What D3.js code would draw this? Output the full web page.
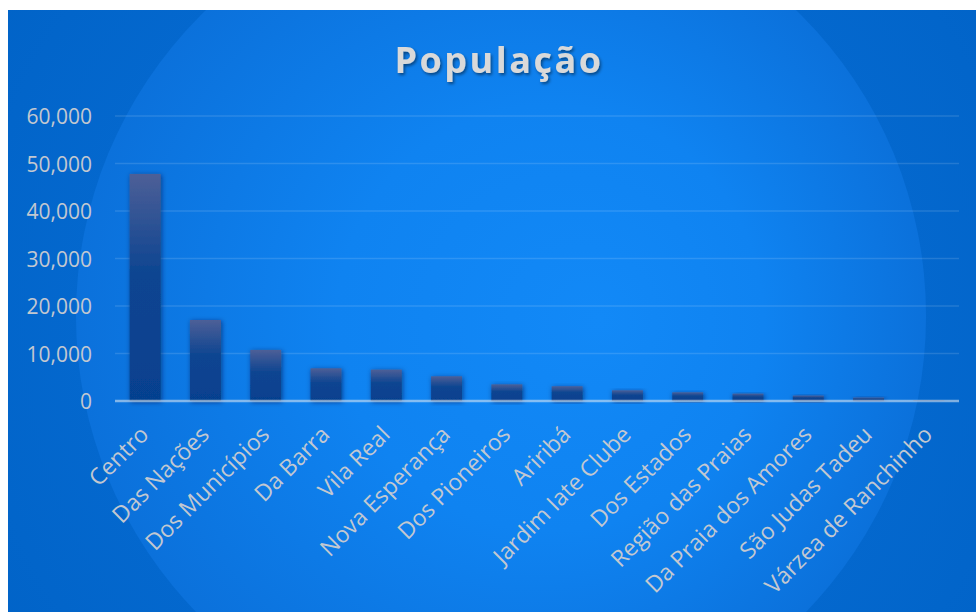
<!DOCTYPE html>
<html>
<head>
<meta charset="utf-8">
<script src="https://cdn.jsdelivr.net/npm/d3@7"></script>
<style>
  html, body { margin: 0; padding: 0; background: #ffffff; }
  svg { display: block; }
</style>
</head>
<body>
<svg id="chart" width="976" height="612"></svg>
<script>
// Population by neighbourhood
const categories = [
  "Centro", "Das Nações", "Dos Municípios", "Da Barra", "Vila Real",
  "Nova Esperança", "Dos Pioneiros", "Ariribá", "Jardim Iate Clube",
  "Dos Estados", "Região das Praias", "Da Praia dos Amores",
  "São Judas Tadeu", "Várzea de Ranchinho"
];
const population = [47800, 17050, 10750, 6880, 6600, 5200, 3500, 3100, 2250, 1830, 1550, 1140, 720, 150];
const yTicks = [0, 10000, 20000, 30000, 40000, 50000, 60000];
const titleText = "População";

const W = 976, H = 612;
const frame = { x: 8, y: 10, w: W - 8, h: H - 10 };
const plot = { left: 115, right: 959, top: 116, bottom: 401 };

const svg = d3.select("#chart");
const defs = svg.append("defs");

// background fills
const outer = defs.append("radialGradient")
  .attr("id", "bgOuter").attr("gradientUnits", "userSpaceOnUse")
  .attr("cx", 501).attr("cy", 316).attr("r", 640);
outer.append("stop").attr("offset", 0).attr("stop-color", "#0b73dd");
outer.append("stop").attr("offset", 1).attr("stop-color", "#0062c6");

const inner = defs.append("radialGradient")
  .attr("id", "bgInner").attr("gradientUnits", "userSpaceOnUse")
  .attr("cx", 501).attr("cy", 316).attr("r", 425)
  .attr("fx", 600).attr("fy", 320);
inner.append("stop").attr("offset", 0).attr("stop-color", "#1289f7");
inner.append("stop").attr("offset", 0.5).attr("stop-color", "#0f83f1");
inner.append("stop").attr("offset", 1).attr("stop-color", "#0b71db");

defs.append("clipPath").attr("id", "frameClip")
  .append("rect").attr("x", frame.x).attr("y", frame.y).attr("width", frame.w).attr("height", frame.h);

// bar fill
const barGrad = defs.append("linearGradient")
  .attr("id", "barGrad").attr("x1", 0).attr("y1", 0).attr("x2", 0).attr("y2", 1);
barGrad.append("stop").attr("offset", 0).attr("stop-color", "#4d5f97");
barGrad.append("stop").attr("offset", 0.45).attr("stop-color", "#0b4491");
barGrad.append("stop").attr("offset", 1).attr("stop-color", "#06418f");

// soft shadows
const barShadow = defs.append("filter").attr("id", "barShadow")
  .attr("x", "-40%").attr("y", "-20%").attr("width", "180%").attr("height", "140%");
barShadow.append("feDropShadow").attr("dx", 1).attr("dy", 1).attr("stdDeviation", 2.5)
  .attr("flood-color", "#00163f").attr("flood-opacity", 0.55);

const titleShadow = defs.append("filter").attr("id", "titleShadow")
  .attr("x", "-10%").attr("y", "-30%").attr("width", "120%").attr("height", "160%");
titleShadow.append("feDropShadow").attr("dx", 1.5).attr("dy", 2).attr("stdDeviation", 1.5)
  .attr("flood-color", "#000000").attr("flood-opacity", 0.45);

const bg = svg.append("g").attr("clip-path", "url(#frameClip)");
bg.append("rect").attr("x", frame.x).attr("y", frame.y).attr("width", frame.w).attr("height", frame.h)
  .attr("fill", "url(#bgOuter)");
bg.append("circle").attr("cx", 501).attr("cy", 316).attr("r", 425).attr("fill", "url(#bgInner)");

// scales
const x = d3.scaleBand().domain(categories).range([plot.left, plot.right])
  .paddingInner(0.486).paddingOuter(0.243);
const y = d3.scaleLinear().domain([0, 60000]).range([plot.bottom, plot.top]);

const labelColor = "#c3c8d0";
const fontFamily = "'Open Sans', 'DejaVu Sans', sans-serif";

// gridlines
svg.append("g").selectAll("line").data(yTicks.filter(d => d > 0)).join("line")
  .attr("x1", plot.left).attr("x2", plot.right)
  .attr("y1", d => y(d)).attr("y2", d => y(d))
  .attr("stroke", "rgba(255,255,255,0.13)").attr("stroke-width", 1.5);

// y axis labels
const yAxis = svg.append("g").attr("transform", `translate(${plot.left - 23},0)`)
  .call(d3.axisLeft(y).tickValues(yTicks).tickSize(0).tickPadding(0).tickFormat(d3.format(",")));
yAxis.select(".domain").remove();
yAxis.selectAll("text")
  .attr("fill", labelColor).attr("font-family", fontFamily).attr("font-size", 21)
  .attr("dy", "0.36em");

// bars
svg.append("g").selectAll("rect").data(categories).join("rect")
  .attr("x", d => x(d))
  .attr("y", (d, i) => y(population[i]))
  .attr("width", x.bandwidth())
  .attr("height", (d, i) => y(0) - y(population[i]))
  .attr("fill", "url(#barGrad)")
  .attr("filter", "url(#barShadow)");

// category axis
svg.append("line")
  .attr("x1", plot.left).attr("x2", plot.right)
  .attr("y1", y(0)).attr("y2", y(0))
  .attr("stroke", "rgba(232,236,242,0.55)").attr("stroke-width", 2.5);

const xAxis = svg.append("g").attr("transform", `translate(0,${plot.bottom})`)
  .call(d3.axisBottom(x).tickSize(0).tickPadding(0));
xAxis.select(".domain").remove();
xAxis.selectAll("text")
  .attr("fill", labelColor).attr("font-family", fontFamily).attr("font-size", 23)
  .attr("text-anchor", "end")
  .attr("y", 0).attr("dy", 0)
  .attr("transform", "translate(5,35) rotate(-45)");

// title
svg.append("text")
  .attr("x", 499).attr("y", 73)
  .attr("text-anchor", "middle")
  .attr("font-family", fontFamily).attr("font-weight", 700).attr("font-size", 36)
  .attr("letter-spacing", 2.5)
  .attr("fill", "#d9d9d9")
  .attr("filter", "url(#titleShadow)")
  .text(titleText);
</script>
</body>
</html>
